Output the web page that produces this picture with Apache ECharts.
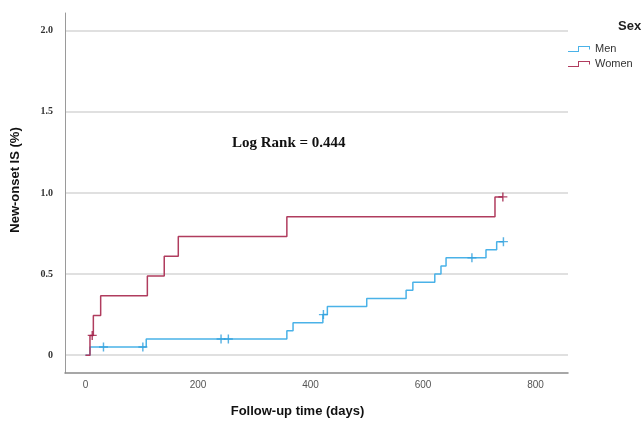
<!DOCTYPE html>
<html>
<head>
<meta charset="utf-8">
<script src="https://cdn.jsdelivr.net/npm/echarts@6/dist/echarts.min.js"></script>
<style>
  html, body { margin: 0; padding: 0; background: #fff; }
  #chart { width: 644px; height: 423px; }
</style>
</head>
<body>
<div id="chart"></div>
<script>
// Cumulative incidence of new-onset IS by sex, drawn as step curves with censor marks.
const menEventDays = [0, 8, 108, 358, 369, 422, 430, 500, 570, 582, 621, 632, 641, 712, 731];
const menCumPct = [0, 0.05, 0.10, 0.15, 0.20, 0.25, 0.30, 0.35, 0.40, 0.45, 0.50, 0.55, 0.60, 0.65, 0.70];
const menCensorDays = [32, 102, 241, 254, 423, 687, 743];

const womenEventDays = [0, 8, 14, 27, 110, 140, 165, 358, 728];
const womenCumPct = [0, 0.122, 0.244, 0.366, 0.488, 0.610, 0.732, 0.854, 0.976];
const womenCensorDays = [12, 742];

const xTickValues = [0, 200, 400, 600, 800];
const yTickValues = [0, 0.5, 1.0, 1.5, 2.0];

const menColor = '#4ab2e8';
const womenColor = '#b03c5e';

// value of the step curve at a given day
function valueAt(days, pct, d) {
  let v = pct[0];
  for (let i = 0; i < days.length; i++) if (days[i] <= d) v = pct[i];
  return v;
}
// step points, extended flat to the last censored observation
function stepPoints(days, pct, censor) {
  const pts = days.map((d, i) => [d, pct[i]]);
  const last = censor[censor.length - 1];
  pts.push([last, valueAt(days, pct, last)]);
  return pts;
}
function censorPoints(days, pct, censor) {
  return censor.map(d => [d, valueAt(days, pct, d)]);
}

const plusIcon = 'path://M4.2,0H5.8V4.2H10V5.8H5.8V10H4.2V5.8H0V4.2H4.2Z';
const stepIcon = 'path://M0,5H10V0H22V3.5H21V1H11V6H0Z';

const chart = echarts.init(document.getElementById('chart'), null, { renderer: 'canvas' });
chart.setOption({
  animation: false,
  backgroundColor: '#fff',
  title: {
    text: 'Sex',
    left: 613, top: 15,
    textStyle: { fontFamily: 'Liberation Sans', fontSize: 13, fontWeight: 'bold', color: '#222' }
  },
  legend: {
    data: ['Men', 'Women'],
    orient: 'vertical',
    left: 563, top: 37.5,
    icon: stepIcon,
    itemWidth: 22, itemHeight: 6, itemGap: 2,
    textStyle: { fontFamily: 'Liberation Sans', fontSize: 11, color: '#333', lineHeight: 13 }
  },
  grid: { left: 65, right: 76, top: 13, bottom: 46, containLabel: false },
  xAxis: {
    type: 'value',
    min: -36.4, max: 857.8,
    name: 'Follow-up time (days)',
    nameLocation: 'middle',
    nameGap: 32,
    nameTextStyle: { fontFamily: 'Liberation Sans', fontSize: 13, fontWeight: 'bold', color: '#111', padding: [0, 38, 0, 0] },
    axisLine: { show: true, onZero: false, lineStyle: { color: '#8a8a8a', width: 1.5 } },
    axisTick: { show: false, customValues: xTickValues },
    axisLabel: { customValues: xTickValues, margin: 7, fontFamily: 'Liberation Sans', fontSize: 10, color: '#555' },
    splitLine: { show: false }
  },
  yAxis: {
    type: 'value',
    min: -0.11, max: 2.11,
    name: 'New-onset IS (%)',
    nameLocation: 'middle',
    nameGap: 43,
    nameTextStyle: { fontFamily: 'Liberation Sans', fontSize: 13, fontWeight: 'bold', color: '#111', padding: [0, 0, 0, 26] },
    axisLine: { show: true, onZero: false, lineStyle: { color: '#9a9a9a', width: 1 } },
    axisTick: { show: false, customValues: yTickValues },
    axisLabel: {
      customValues: yTickValues, margin: 12,
      fontFamily: 'Liberation Serif', fontSize: 10, fontWeight: 'bold', color: '#333',
      formatter: v => (v === 0 ? '0' : v.toFixed(1))
    },
    splitLine: { show: true, lineStyle: { color: '#d6d6d6', width: 1.5 } }
  },
  graphic: [{
    type: 'text',
    left: 290 - 58, top: 136,
    style: { text: 'Log Rank = 0.444', font: 'bold 15px "Liberation Serif"', fill: '#111' }
  }],
  series: [
    {
      name: 'Men', type: 'line', step: 'end',
      data: stepPoints(menEventDays, menCumPct, menCensorDays),
      showSymbol: false, symbol: 'none',
      lineStyle: { color: menColor, width: 1.5 },
      itemStyle: { color: menColor }, z: 3
    },
    {
      name: 'Women', type: 'line', step: 'end',
      data: stepPoints(womenEventDays, womenCumPct, womenCensorDays),
      showSymbol: false, symbol: 'none',
      lineStyle: { color: womenColor, width: 1.5 },
      itemStyle: { color: womenColor }, z: 4
    },
    {
      name: 'Men censored', type: 'scatter',
      data: censorPoints(menEventDays, menCumPct, menCensorDays),
      symbol: plusIcon, symbolSize: 9,
      itemStyle: { color: '#2e9fdc' }, z: 5
    },
    {
      name: 'Women censored', type: 'scatter',
      data: censorPoints(womenEventDays, womenCumPct, womenCensorDays),
      symbol: plusIcon, symbolSize: 9,
      itemStyle: { color: '#9e1a44' }, z: 6
    }
  ]
});
</script>
</body>
</html>
